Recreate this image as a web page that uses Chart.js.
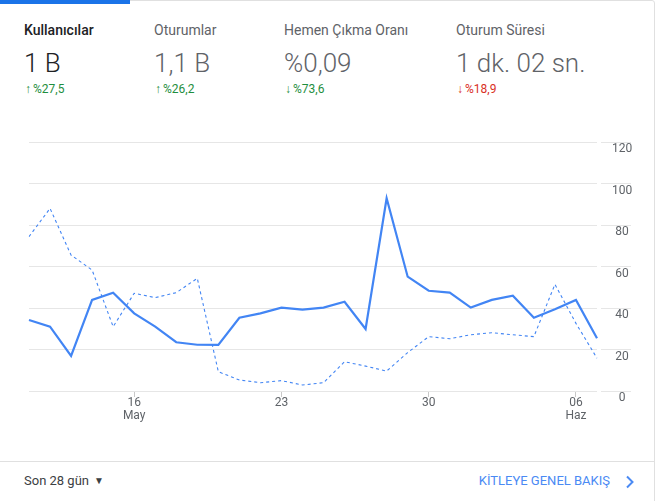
<!DOCTYPE html>
<html>
<head>
<meta charset="utf-8">
<script src="https://cdn.jsdelivr.net/npm/chart.js@4.4.1/dist/chart.umd.min.js"></script>
<style>
  html,body{margin:0;padding:0;background:#fff;width:657px;height:501px;overflow:hidden;font-family:Roboto,"Noto Sans",sans-serif;}
  .card{position:absolute;left:-1px;top:0;width:656px;height:520px;border:1px solid #e0e0e0;border-radius:3px;box-sizing:border-box;}
  .bar{position:absolute;left:0;top:0;width:130px;height:4px;background:#1a73e8;}
  .metric{position:absolute;top:0;}
  .mt{position:absolute;top:22px;font-size:14px;line-height:16px;color:#5f6368;white-space:nowrap;}
  .mv{position:absolute;top:48px;font-size:26px;line-height:30px;font-weight:300;color:#5f6368;white-space:nowrap;}
  .mc{position:absolute;top:82px;font-size:12px;line-height:14px;white-space:nowrap;}
  .mc .ar{font-weight:bold;margin-right:2px;margin-left:1px;}
  .act .mt{color:#202124;font-weight:500;}
  .act .mv{color:#202124;}
  .up{color:#1e8e3e;}
  .down{color:#d93025;}
  .sep{position:absolute;left:0;top:461px;width:655px;height:1px;background:#e0e0e0;}
  .foot-l{position:absolute;left:24px;top:473px;font-size:13px;line-height:16px;color:#3c4043;white-space:nowrap;}
  .foot-l .tri{font-size:10px;margin-left:5px;position:relative;top:-1px;}
  .foot-r{position:absolute;right:47px;top:473px;font-size:13px;line-height:16px;color:#4a8af4;white-space:nowrap;}
  .chev{position:absolute;left:625px;top:475px;}
  #wrap{position:absolute;left:0;top:120px;width:657px;height:320px;}
</style>
</head>
<body>
<div class="card"></div>
<div class="bar"></div>
<div class="metric act" style="left:24px"><div class="mt">Kullanıcılar</div><div class="mv">1 B</div><div class="mc up"><span class="ar">↑</span>%27,5</div></div>
<div class="metric" style="left:154px"><div class="mt">Oturumlar</div><div class="mv">1,1 B</div><div class="mc up"><span class="ar">↑</span>%26,2</div></div>
<div class="metric" style="left:284px"><div class="mt">Hemen Çıkma Oranı</div><div class="mv">%0,09</div><div class="mc up"><span class="ar">↓</span>%73,6</div></div>
<div class="metric" style="left:456px"><div class="mt">Oturum Süresi</div><div class="mv">1 dk. 02 sn.</div><div class="mc down"><span class="ar">↓</span>%18,9</div></div>
<div id="wrap"><canvas id="c"></canvas></div>
<div class="sep"></div>
<div class="foot-l">Son 28 gün<span class="tri">▼</span></div>
<div class="foot-r">KİTLEYE GENEL BAKIŞ</div>
<svg class="chev" width="10" height="14" viewBox="0 0 10 14"><path d="M2 1.5 L7.5 7 L2 12.5" fill="none" stroke="#4a8af4" stroke-width="2"/></svg>
<script>
const categories = ['11 May','12 May','13 May','14 May','15 May','16 May','17 May','18 May','19 May','20 May','21 May','22 May','23 May','24 May','25 May','26 May','27 May','28 May','29 May','30 May','31 May','01 Haz','02 Haz','03 Haz','04 Haz','05 Haz','06 Haz','07 Haz'];
const currentUsers = [34.2,31.0,16.9,43.9,47.4,37.4,31.0,23.5,22.3,22.2,35.3,37.4,40.2,39.2,40.2,43.0,29.9,92.9,55.1,48.3,47.4,40.2,43.9,45.9,35.3,39.4,43.9,25.4];
const previousUsers = [74.4,88.0,65.5,58.3,31.0,47.1,45.0,47.4,54.3,9.3,5.3,4.0,5.0,2.9,4.0,14.1,12.0,9.6,18.5,26.2,25.2,27.1,28.1,27.1,26.2,51.4,32.6,15.8];
const tickDays = ['16 May','23 May','30 May','06 Haz'];
const tickTexts = [['16','May'],['23'],['30'],['06','Haz']];
const yTicks = [0,20,40,60,80,100,120];

const blue = '#4285f4';
new Chart(document.getElementById('c'), {
  type: 'line',
  data: {
    labels: categories,
    datasets: [
      {label:'Kullanıcılar', data: currentUsers, borderColor: blue, borderWidth: 2.2, pointRadius: 0, tension: 0, fill: false},
      {label:'Önceki dönem', data: previousUsers, borderColor: blue, borderWidth: 1.1, borderDash:[3,3], pointRadius: 0, tension: 0, fill: false}
    ]
  },
  options: {
    responsive: true,
    maintainAspectRatio: false,
    animation: false,
    layout: {autoPadding: false, padding: {left: 29, top: 22, right: 0, bottom: 0}},
    plugins: {legend: {display: false}, tooltip: {enabled: false}},
    scales: {
      x: {
        offset: false,
        border: {display: false},
        grid: {
          drawOnChartArea: false, drawTicks: true, tickLength: 6,
          color: (ctx) => (ctx.tick && tickDays.indexOf(categories[ctx.index]) >= 0) ? '#c8c8c8' : 'rgba(0,0,0,0)'
        },
        ticks: {
          autoSkip: false, maxRotation: 0, padding: 0,
          color: '#5f6368',
          font: {family: 'Roboto', size: 12, lineHeight: 1.05},
          callback: function(v, i) { const k = tickDays.indexOf(categories[i]); return k >= 0 ? tickTexts[k] : ''; }
        },
        afterFit: (s) => { s.height = 49; }
      },
      y: {
        position: 'right',
        min: 0, max: 120,
        border: {display: false},
        afterBuildTicks: (s) => { s.ticks = yTicks.map(v => ({value: v})); },
        grid: {color: '#e6e6e6', lineWidth: 1, drawTicks: true, tickLength: 34, tickBorderDash: [0,4,30], tickColor: '#e6e6e6'},
        ticks: {
          padding: -19, crossAlign: 'center', labelOffset: 7,
          color: '#5f6368',
          font: {family: 'Roboto', size: 12}
        },
        afterFit: (s) => { s.width = 60; }
      }
    }
  }
});
</script>
</body>
</html>
